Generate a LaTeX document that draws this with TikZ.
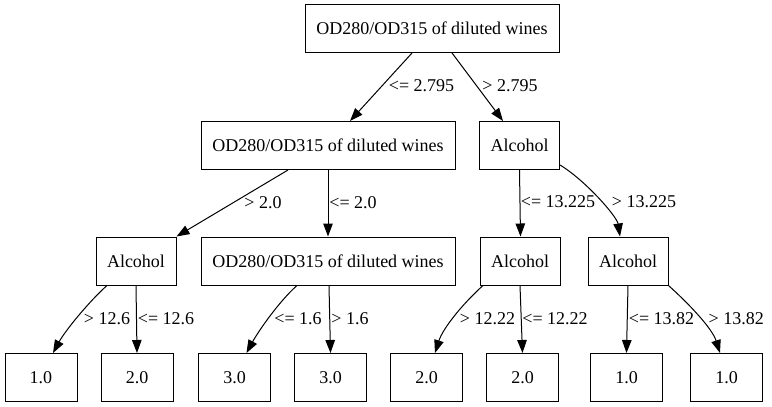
\documentclass[tikz,border=0pt]{standalone}
\usepackage{fontspec}
\setmainfont{Liberation Serif}
\usetikzlibrary{arrows.meta}
\begin{document}
\begin{tikzpicture}[x=1pt,y=-1pt,
  box/.style={draw=black, line width=1pt, inner sep=0pt, minimum height=48pt, font=\fontsize{18}{20}\selectfont},
  odbox/.style={box, minimum width=254pt},
  alcbox/.style={box, minimum width=80pt},
  leafbox/.style={box, minimum width=72pt},
  edge/.style={draw=black, line width=1pt, -{Triangle[length=13pt,width=9.5pt]}},
  lbl/.style={inner sep=0pt, font=\fontsize{18}{20}\selectfont}]
\useasboundingbox (0,0) rectangle (772,407);
% nodes
\node[odbox] (root) at (432,28.5) {OD280/OD315 of diluted wines};
\node[odbox] (n2a) at (328,145.5) {OD280/OD315 of diluted wines};
\node[alcbox] (n2b) at (519.5,145.5) {Alcohol};
\node[alcbox] (n3a) at (136,261) {Alcohol};
\node[odbox] (n3b) at (328,261) {OD280/OD315 of diluted wines};
\node[alcbox] (n3c) at (520,261) {Alcohol};
\node[alcbox] (n3d) at (628,261) {Alcohol};
\node[leafbox] (l1) at (41,377.5) {1.0};
\node[leafbox] (l2) at (137,377.5) {2.0};
\node[leafbox] (l3) at (234.5,377.5) {3.0};
\node[leafbox] (l4) at (330.5,377.5) {3.0};
\node[leafbox] (l5) at (426.5,377.5) {2.0};
\node[leafbox] (l6) at (522.5,377.5) {2.0};
\node[leafbox] (l7) at (626.5,377.5) {1.0};
\node[leafbox] (l8) at (726.5,377.5) {1.0};
% edges
\draw[edge] ([xshift=-20pt]root.south) -- ([xshift=22pt]n2a.north);
\draw[edge] ([xshift=20pt]root.south) -- ([xshift=-16.5pt]n2b.north);
\draw[edge] ([xshift=-40pt]n2a.south) -- (n3a.north east);
\draw[edge] (n2a.south) -- (n3b.north);
\draw[edge] (n2b.south) -- ([xshift=0.5pt]n3c.north);
\draw[edge] ([yshift=5pt]n2b.south east) .. controls +(25,15) and +(-3,-20) .. ([xshift=-8pt]n3d.north);
\draw[edge] ([xshift=-29pt]n3a.south) .. controls +(-18,16) and +(12,-22) .. ([xshift=12pt]l1.north);
\draw[edge] (n3a.south) -- (l2.north);
\draw[edge] ([xshift=-31pt]n3b.south) .. controls +(-18,16) and +(12,-22) .. ([xshift=12pt]l3.north);
\draw[edge] ([xshift=1pt]n3b.south) -- (l4.north);
\draw[edge] ([xshift=-37pt]n3c.south) .. controls +(-20,18) and +(8,-25) .. ([xshift=8.5pt]l5.north);
\draw[edge] (n3c.south) -- (l6.north);
\draw[edge] (n3d.south) -- (l7.north);
\draw[edge] (n3d.south east) .. controls +(20,18) and +(-8,-25) .. ([xshift=-6.5pt]l8.north);
% labels
\node[lbl] (t1) at (421.5,86) {<= 2.795};
\node[lbl] (t2) at (510,86) {> 2.795};
\node[lbl] (t3) at (263,203) {> 2.0};
\node[lbl] (t4) at (353,203) {<= 2.0};
\node[lbl] (t5) at (558,202) {<= 13.225};
\node[lbl] (t6) at (644,202) {> 13.225};
\node[lbl] (t7) at (107,319) {> 12.6};
\node[lbl] (t8) at (166,319) {<= 12.6};
\node[lbl] (t9) at (298,319) {<= 1.6};
\node[lbl] (t10) at (350,319) {> 1.6};
\node[lbl] (t11) at (487.5,319) {> 12.22};
\node[lbl] (t12) at (555,319) {<= 12.22};
\node[lbl] (t13) at (661.5,319) {<= 13.82};
\node[lbl] (t14) at (736.3,319) {> 13.82};
\end{tikzpicture}
\end{document}
